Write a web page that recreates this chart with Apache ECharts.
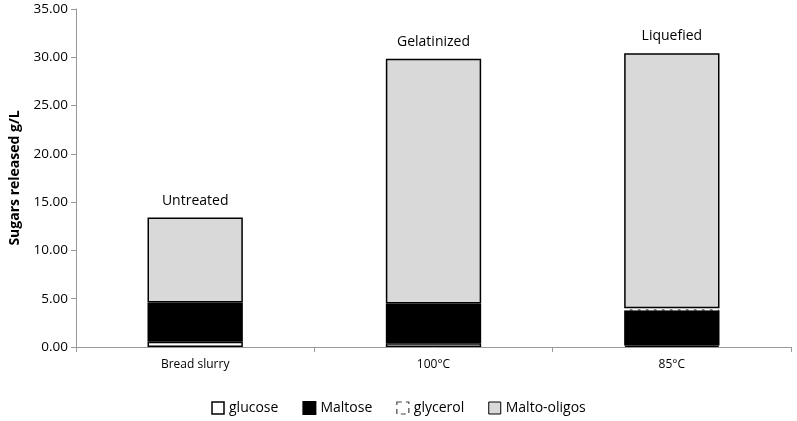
<!DOCTYPE html>
<html><head><meta charset="utf-8">
<script src="https://cdn.jsdelivr.net/npm/echarts@6/dist/echarts.min.js"></script>
<style>html,body{margin:0;padding:0;background:#fff}#c{width:797px;height:421px}</style>
</head><body><div id="c"></div>
<script>
const categories = ['Bread slurry', '100°C', '85°C'];
const treatments = ['Untreated', 'Gelatinized', 'Liquefied'];
const glucose = [0.55, 0.38, 0.15];
const maltose = [4.05, 4.12, 3.65];
const glycerol = [0, 0, 0.22];
const maltoOligos = [8.8, 25.35, 26.4];
const yTicks = { min: 0, max: 35, interval: 5 };

const font = 'Open Sans';
const chart = echarts.init(document.getElementById('c'));
const base = { type: 'bar', stack: 's', barWidth: '40%' };
const skipZero = arr => arr.map(v => (v === 0 ? '-' : v));
chart.setOption({
  animation: false,
  textStyle: { fontFamily: font },
  grid: { left: 71, right: 6, top: 9, bottom: 74 },
  legend: {
    bottom: 1, left: 'center', itemWidth: 12, itemHeight: 12, itemGap: 24, icon: 'rect',
    textStyle: { fontFamily: font, fontSize: 14, color: '#000' },
    data: [
      { name: 'glucose', itemStyle: { color: '#fff', borderColor: '#000', borderWidth: 1.5 } },
      { name: 'Maltose' },
      { name: 'glycerol', itemStyle: { color: '#fff', borderColor: '#444', borderType: [5, 4], borderWidth: 1.2 } },
      { name: 'Malto-oligos', itemStyle: { color: '#d9d9d9', borderColor: '#000', borderWidth: 1 } }
    ]
  },
  xAxis: {
    type: 'category', data: categories,
    axisLine: { lineStyle: { color: '#999' } },
    axisTick: { show: true, alignWithLabel: false, length: 5, lineStyle: { color: '#999' } },
    axisLabel: { color: '#000', fontSize: 12, margin: 12, fontFamily: font }
  },
  yAxis: {
    type: 'value', min: yTicks.min, max: yTicks.max, interval: yTicks.interval,
    name: 'Sugars released g/L', nameLocation: 'middle', nameGap: 54,
    nameTextStyle: { fontWeight: 'bold', fontSize: 14, color: '#000', fontFamily: font },
    axisLine: { show: true, lineStyle: { color: '#999' } },
    axisTick: { show: true, length: 5, lineStyle: { color: '#999' } },
    splitLine: { show: false },
    axisLabel: { color: '#000', fontSize: 13.5, fontFamily: font, formatter: v => v.toFixed(2) }
  },
  series: [
    Object.assign({}, base, { name: 'glucose', data: skipZero(glucose),
      itemStyle: { color: '#fff', borderColor: '#000', borderWidth: 1.5 } }),
    Object.assign({}, base, { name: 'Maltose', data: skipZero(maltose),
      itemStyle: { color: '#000', borderColor: '#000', borderWidth: 1.5 } }),
    Object.assign({}, base, { name: 'glycerol', data: skipZero(glycerol),
      itemStyle: { color: '#000', borderColor: '#fff', borderWidth: 1.5, borderType: [5, 3] } }),
    Object.assign({}, base, { name: 'Malto-oligos', data: skipZero(maltoOligos),
      itemStyle: { color: '#d9d9d9', borderColor: '#000', borderWidth: 1.5 },
      label: { show: true, position: 'top', distance: 10, fontSize: 14, color: '#000', fontFamily: font,
        formatter: p => treatments[p.dataIndex] } })
  ]
});
</script></body></html>
